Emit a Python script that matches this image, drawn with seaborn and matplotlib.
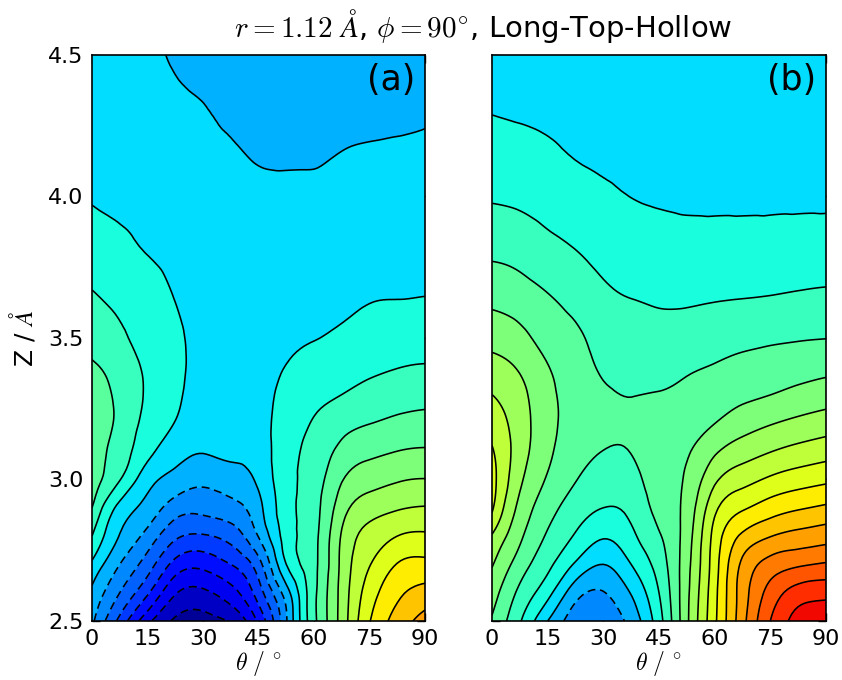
import numpy as np
import matplotlib
matplotlib.use("Agg")
import matplotlib.pyplot as plt
import matplotlib.tri as mtri
import seaborn as sns

# ---- data (energies in units of the contour spacing) ----
theta = [0, 7.5, 15, 22.5, 30, 37.5, 45, 52.5, 60, 67.5, 75, 82.5, 90]
z_vals = [2.5, 2.6, 2.7, 2.8, 2.9, 3.0, 3.1, 3.2, 3.3, 3.4, 3.5, 3.65, 3.8, 4.0, 4.15, 4.3, 4.5]

energy_a = [
    [-0.8, -3.3, -5.7, -7.15, -7.4, -6.9, -4.8, -1.1, 2.75, 5.4, 7.95, 9.4, 10.4],
    [-0.2, -2.0, -3.85, -5.9, -6.2, -5.4, -3.5, -0.45, 2.75, 5.35, 7.5, 8.78, 9.36],
    [0.8, -1.0, -2.5, -4.35, -4.7, -4.0, -2.4, 1.0, 2.75, 5.25, 6.95, 8.04, 8.27],
    [2.0, -0.05, -1.35, -2.8, -3.1, -2.6, -0.95, 1.45, 2.72, 5.1, 6.35, 7.0, 7.17],
    [3.0, 0.69, -0.36, -1.5, -1.7, -1.35, -0.3, 1.6, 2.65, 4.56, 5.56, 5.9, 6.06],
    [3.4, 2.05, 0.4, -0.35, -0.75, -0.5, 0.2, 1.65, 2.5, 3.93, 4.58, 4.9, 5.03],
    [3.6, 2.5, 1.3, 0.4, 0.05, 0.25, 0.5, 1.6, 2.35, 3.27, 3.76, 4.0, 4.11],
    [3.65, 2.75, 1.7, 0.97, 0.45, 0.45, 0.6, 1.5, 2.07, 2.63, 2.97, 3.2, 3.33],
    [3.55, 2.75, 1.88, 1.2, 0.6, 0.55, 0.65, 1.3, 1.75, 2.0, 2.32, 2.55, 2.66],
    [3.1, 2.55, 1.85, 1.3, 0.65, 0.58, 0.65, 1.02, 1.35, 1.58, 1.78, 1.96, 2.05],
    [2.7, 2.2, 1.65, 1.25, 0.62, 0.58, 0.62, 0.85, 0.97, 1.17, 1.35, 1.53, 1.61],
    [2.07, 1.73, 1.4, 0.95, 0.55, 0.55, 0.55, 0.7, 0.75, 0.8, 0.95, 0.96, 0.99],
    [1.56, 1.28, 0.98, 0.7, 0.45, 0.45, 0.45, 0.55, 0.55, 0.6, 0.75, 0.75, 0.74],
    [0.93, 0.8, 0.7, 0.45, 0.3, 0.3, 0.25, 0.25, 0.2, 0.3, 0.45, 0.45, 0.41],
    [0.75, 0.62, 0.5, 0.3, 0.15, 0.1, -0.1, -0.15, -0.1, 0.02, 0.1, 0.15, 0.16],
    [0.6, 0.48, 0.35, 0.15, 0.03, -0.15, -0.35, -0.35, -0.3, -0.25, -0.2, -0.2, -0.12],
    [0.45, 0.33, 0.2, -0.1, -0.2, -0.4, -0.6, -0.6, -0.55, -0.5, -0.45, -0.45, -0.4],
]

energy_b = [
    [3.9, 2.1, 0.0, -1.45, -1.6, -0.65, 1.6, 4.8, 7.8, 10.65, 13.0, 14.35, 14.85],
    [4.47, 2.77, 1.33, -0.6, -1.04, 0.07, 2.0, 4.75, 7.7, 10.5, 12.38, 13.45, 13.67],
    [5.08, 3.52, 2.25, 0.86, 0.0, 1.0, 2.45, 4.65, 7.55, 10.2, 11.4, 11.85, 12.11],
    [5.92, 4.19, 2.88, 1.9, 1.11, 1.77, 2.9, 4.5, 7.35, 9.19, 9.96, 10.34, 10.58],
    [7.15, 4.73, 3.4, 2.5, 2.0, 2.27, 3.3, 4.35, 6.74, 7.86, 8.49, 8.89, 9.17],
    [7.35, 5.2, 3.9, 3.05, 2.49, 2.65, 3.5, 4.15, 5.79, 6.64, 7.16, 7.53, 7.79],
    [7.1, 5.5, 4.2, 3.45, 2.98, 3.04, 3.6, 3.89, 4.84, 5.52, 5.96, 6.31, 6.58],
    [6.55, 5.5, 4.3, 3.7, 3.4, 3.2, 3.45, 3.56, 3.98, 4.53, 4.92, 5.23, 5.48],
    [6.0, 5.3, 4.25, 3.65, 3.2, 2.97, 3.05, 3.23, 3.51, 3.78, 3.99, 4.28, 4.52],
    [5.33, 4.86, 4.03, 3.45, 2.84, 2.67, 2.7, 2.87, 3.05, 3.26, 3.41, 3.55, 3.69],
    [4.66, 4.29, 3.64, 3.2, 2.6, 2.39, 2.36, 2.45, 2.58, 2.73, 2.83, 2.92, 2.98],
    [3.69, 3.44, 3.04, 2.62, 2.17, 1.97, 1.87, 1.85, 1.91, 1.95, 2.0, 2.07, 2.13],
    [2.84, 2.67, 2.33, 2.04, 1.74, 1.55, 1.46, 1.4, 1.42, 1.43, 1.47, 1.51, 1.53],
    [1.91, 1.81, 1.61, 1.4, 1.17, 0.99, 0.9, 0.85, 0.84, 0.84, 0.84, 0.85, 0.85],
    [1.43, 1.32, 1.15, 0.95, 0.85, 0.83, 0.75, 0.72, 0.74, 0.76, 0.78, 0.8, 0.8],
    [0.97, 0.9, 0.85, 0.8, 0.75, 0.72, 0.65, 0.63, 0.65, 0.66, 0.68, 0.7, 0.7],
    [0.75, 0.7, 0.65, 0.6, 0.58, 0.57, 0.52, 0.5, 0.52, 0.53, 0.55, 0.55, 0.55],
]

levels = list(range(-8, 18))
panel_labels = ["(a)", "(b)"]
x_ticks = [0, 15, 30, 45, 60, 75, 90]
y_ticks = [2.5, 3.0, 3.5, 4.0, 4.5]

# ---- style ----
sns.set_style("ticks")
plt.rcParams["font.family"] = ["DejaVu Sans"]
plt.rcParams["mathtext.fontset"] = "cm"
plt.rcParams["axes.linewidth"] = 1.2
for key in ["text.color", "axes.labelcolor", "xtick.color", "ytick.color", "axes.edgecolor"]:
    plt.rcParams[key] = "black"

cmap = matplotlib.colormaps["jet"]

fig = plt.figure(figsize=(8.42, 6.8), dpi=100)
ax_a = fig.add_axes([0.1093, 0.0868, 0.3955, 0.8324])
ax_b = fig.add_axes([0.5843, 0.0868, 0.3967, 0.8324])

# triangulation of the grid in normalised coordinates (fixed diagonals)
nt, nz = len(theta), len(z_vals)
T, Zg = np.meshgrid(np.array(theta, float), np.array(z_vals, float))
tris = []
for j in range(nz - 1):
    for i in range(nt - 1):
        p = j * nt + i
        tris.append([p, p + 1, p + nt + 1])
        tris.append([p, p + nt + 1, p + nt])
tri_n = mtri.Triangulation((T / 90.0).ravel(), ((Zg - 2.5) / 2.0).ravel(), np.array(tris))
refiner = mtri.UniformTriRefiner(tri_n)

line_styles = ["solid" if lv >= 0 else (0, (5, 3)) for lv in levels]

for ax, energy, lab in zip([ax_a, ax_b], [energy_a, energy_b], panel_labels):
    E = np.array(energy, float).ravel()
    interp = mtri.CubicTriInterpolator(tri_n, E, kind="min_E")
    tri_f, E_f = refiner.refine_field(E, triinterpolator=interp, subdiv=3)
    tri_plot = mtri.Triangulation(tri_f.x * 90.0, tri_f.y * 2.0 + 2.5, tri_f.triangles)
    ax.tricontourf(tri_plot, E_f, levels=levels, cmap=cmap,
                   vmin=levels[0], vmax=levels[-1])
    ax.tricontour(tri_plot, E_f, levels=levels, colors="k", linewidths=1.15,
                  linestyles=line_styles)
    ax.set_xlim(0, 90)
    ax.set_ylim(2.5, 4.5)
    ax.set_xticks(x_ticks)
    ax.set_yticks(y_ticks)
    ax.tick_params(direction="in", top=True, right=True, length=6, width=1.0,
                   labelsize=16, pad=6)
    ax.set_xlabel(r"$\theta\ /\ ^{\circ}$", fontsize=17, labelpad=0)
    ax.text(0.97, 0.985, lab, transform=ax.transAxes, ha="right", va="top", fontsize=25)
    for s in ax.spines.values():
        s.set_visible(True)
        s.set_color("k")

ax_b.set_yticklabels([])
ax_a.set_ylabel(r"Z / $\AA$", fontsize=18, labelpad=8)

fig.text(0.574, 0.962, r"$r = 1.12\ \AA$, $\phi = 90^{\circ}$, Long-Top-Hollow",
         ha="center", va="center", fontsize=21)

fig.savefig("out.png", dpi=100)
